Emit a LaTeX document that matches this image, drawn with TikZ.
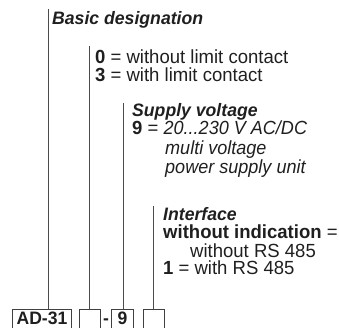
\documentclass[tikz,border=0pt]{standalone}
\usepackage{fontspec}
\setmainfont{Liberation Sans}[FakeStretch=0.975,ItalicFeatures={FakeStretch=0.95}]
\newfontfamily\headfont{Liberation Sans}[FakeStretch=0.98]
\begin{document}
\begin{tikzpicture}[x=1pt,y=-1pt,
  txt/.style={anchor=base west,inner sep=0pt,text=black!88,font=\fontsize{19}{19}\selectfont},
  head/.style={txt,font=\headfont\fontsize{18}{18}\selectfont\bfseries\itshape},
  codebox/.style={draw=black!75,line width=0.9pt,inner sep=0pt,minimum height=18.5pt,anchor=north west,text=black!88,font=\fontsize{18}{18}\selectfont\bfseries},
  lead/.style={draw=black!70,line width=0.8pt}]
\useasboundingbox (0,0) rectangle (339,328);
% boxes
\node[codebox,minimum width=59pt] (b1) at (12,309) {AD-31};
\node[codebox,minimum width=21pt] (b2) at (79,309) {};
\node[txt,font=\fontsize{18}{18}\selectfont\bfseries,anchor=base] (dash) at (106,324) {-};
\node[codebox,minimum width=22pt] (b3) at (111,309) {9};
\node[codebox,minimum width=21pt] (b4) at (143,309) {};
% lead tops
\coordinate (t1) at (48,9);
\coordinate (t2) at (89,46);
\coordinate (t3) at (123,103);
\coordinate (t4) at (153,206);
\draw[lead] (t1) -- (t1 |- b1.north);
\draw[lead] (t2) -- (t2 |- b2.north);
\draw[lead] (t3) -- (t3 |- b3.north);
\draw[lead] (t4) -- (t4 |- b4.north);
% texts
\node[head] (h1) at (52,25) {Basic designation};
\node[txt] (l1) at (95,63.5) {\textbf{0} = without limit contact};
\node[txt] (l2) at (95,82) {\textbf{3} = with limit contact};
\node[head] (h2) at (132,116.5) {Supply voltage};
\node[txt] (s1) at (132,135) {\textbf{9} = \textit{20...230 V AC/DC}};
\node[txt] (s2) at (165,155) {\textit{multi voltage}};
\node[txt] (s3) at (165,174) {\textit{power supply unit}};
\node[head] (h3) at (163,221) {Interface};
\node[txt] (i1) at (163,238.5) {\textbf{without indication} =};
\node[txt] (i2) at (190,257) {without RS 485};
\node[txt] (i3) at (163,274) {\textbf{1} = with RS 485};
\end{tikzpicture}
\end{document}
